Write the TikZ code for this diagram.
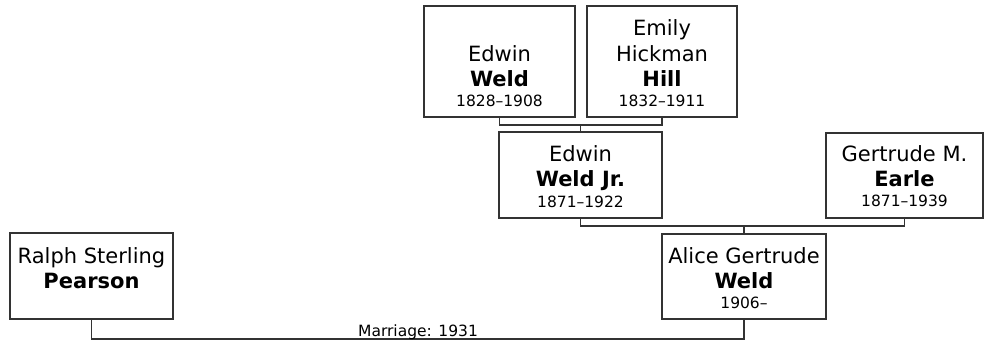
\documentclass[tikz,border=0pt]{standalone}
\usepackage{fontspec}
\setmainfont{DejaVu Sans}
\begin{document}
\begin{tikzpicture}[x=1pt,y=-1pt,
  personbox/.style={draw=black!80,line width=1.3pt,fill=white,inner sep=0pt,anchor=center},
  nm/.style={anchor=base,inner sep=0pt,font=\fontsize{21}{25}\selectfont},
  nmb/.style={anchor=base,inner sep=0pt,font=\fontsize{21}{25}\selectfont\bfseries},
  dt/.style={anchor=base,inner sep=0pt,font=\fontsize{15.5}{18}\selectfont},
  conn/.style={draw=black!80,line width=1.3pt}]
\useasboundingbox (0,0) rectangle (984,343);
% boxes
\node[personbox,minimum width=151pt,minimum height=111pt] (ew) at (499.5,61.5) {};
\node[personbox,minimum width=150pt,minimum height=111pt] (eh) at (662,61.5) {};
\node[personbox,minimum width=163pt,minimum height=86pt] (jr) at (580.5,175) {};
\node[personbox,minimum width=157pt,minimum height=85pt] (gm) at (904.5,175.5) {};
\node[personbox,minimum width=164pt,minimum height=85pt] (ag) at (744,276.5) {};
\node[personbox,minimum width=163pt,minimum height=86pt] (rp) at (91.5,276) {};
% texts
\node[nm] (ew1) at (499.5,61) {Edwin};
\node[nmb] (ew2) at (499.5,86) {Weld};
\node[dt] (ew3) at (499.5,106) {1828–1908};
\node[nm] (eh1) at (662,35) {Emily};
\node[nm] (eh2) at (662,61) {Hickman};
\node[nmb] (eh3) at (662,86) {Hill};
\node[dt] (eh4) at (662,106) {1832–1911};
\node[nm] (jr1) at (580.5,161) {Edwin};
\node[nmb] (jr2) at (580.5,186) {Weld Jr.};
\node[dt] (jr3) at (580.5,207) {1871–1922};
\node[nm] (gm1) at (904.5,161) {Gertrude M.};
\node[nmb] (gm2) at (904.5,186) {Earle};
\node[dt] (gm3) at (904.5,206) {1871–1939};
\node[nm] (ag1) at (744,263) {Alice Gertrude};
\node[nmb] (ag2) at (744,288) {Weld};
\node[dt] (ag3) at (744,308) {1906–};
\node[nm] (rp1) at (91.5,263) {Ralph Sterling};
\node[nmb] (rp2) at (91.5,288) {Pearson};
% connectors
\coordinate (m1) at (580.5,125);
\coordinate (m2) at (744,226);
\coordinate (m3) at (418,339);
\draw[conn] (ew.south) |- (m1) -| (eh.south);
\draw[conn] (m1) -- (jr.north);
\draw[conn] (jr.south) |- (m2) -| (gm.south);
\draw[conn] (m2) -- (ag.north);
\draw[conn] (ag.south) |- (m3) -| (rp.south);
\node[dt] (mar) at (418,336) {Marriage: 1931};
\end{tikzpicture}
\end{document}
